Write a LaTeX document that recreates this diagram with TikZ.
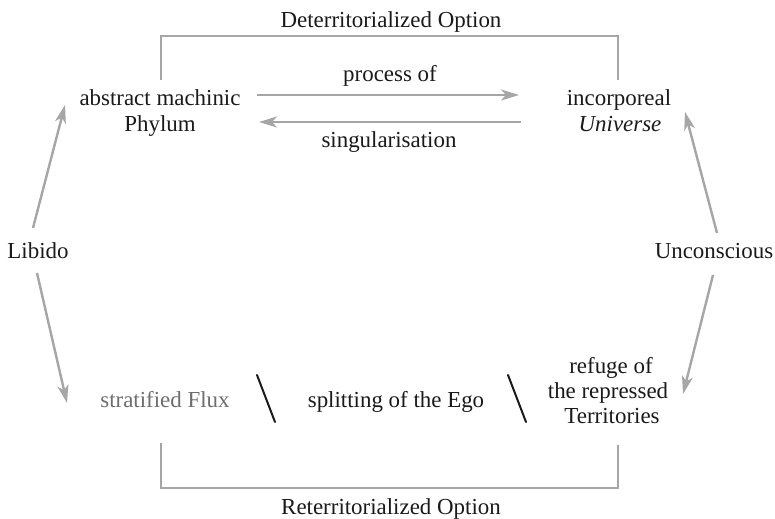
\documentclass[tikz,border=0pt]{standalone}
\usepackage{fontspec}
\setmainfont{Liberation Serif}
\usetikzlibrary{arrows.meta}
\definecolor{lgray}{HTML}{A6A6A6}
\definecolor{ink}{HTML}{1A1A1A}
\definecolor{fluxgray}{HTML}{6E6E6E}
\tikzset{
  lbl/.style={inner sep=0pt, anchor=base, text=ink, font=\fontsize{23}{27}\selectfont},
  gline/.style={draw=lgray, line width=2.4bp},
  garrow/.style={gline, -{Stealth[length=18bp,width=11bp,inset=5bp]}},
  slash/.style={draw=ink, line width=2bp, line cap=round}
}
\begin{document}
\begin{tikzpicture}[x=1bp,y=-1bp]
\useasboundingbox[fill=white] (0,0) rectangle (775,519);
% labels
\node[lbl] (deterr) at (391,28) {Deterritorialized Option};
\node[lbl] (abstr) at (160,106) {abstract machinic};
\node[lbl] (phylum) at (160,132) {Phylum};
\node[lbl] (process) at (390,82) {process of};
\node[lbl] (singul) at (389,148) {singularisation};
\node[lbl] (incorp) at (619,106) {incorporeal};
\node[lbl] (univ) at (620,132) {\itshape Universe};
\node[lbl] (libido) at (38,259) {Libido};
\node[lbl] (uncon) at (714,259) {Unconscious};
\node[lbl, text=fluxgray] (flux) at (165,407) {stratified Flux};
\node[lbl] (split) at (396,407) {splitting of the Ego};
\node[lbl] (refuge) at (611,373) {refuge of};
\node[lbl] (repr) at (608,398) {the repressed};
\node[lbl] (terr) at (612,423) {Territories};
\node[lbl] (reterr) at (391,514) {Reterritorialized Option};
% connector end points
\coordinate (tl) at (161,80);
\coordinate (tr) at (618,80);
\coordinate (bl) at (161,443);
\coordinate (br) at (618,445);
\coordinate (p1s) at (257,95);
\coordinate (p1e) at (519,95);
\coordinate (p2s) at (521,122);
\coordinate (p2e) at (259,122);
\coordinate (lup) at (33,228);
\coordinate (lupe) at (65,105);
\coordinate (ldn) at (37,273);
\coordinate (ldne) at (67,403);
\coordinate (uup) at (717,233);
\coordinate (uupe) at (685,112);
\coordinate (udn) at (713,275);
\coordinate (udne) at (683,394);
% brackets
\draw[gline] (tl) -- (161,36) -- (618,36) -- (tr);
\draw[gline] (bl) -- (161,488) -- (618,488) -- (br);
% horizontal arrows
\draw[garrow] (p1s) -- (p1e);
\draw[garrow] (p2s) -- (p2e);
% diagonal arrows
\draw[garrow] (lup) -- (lupe);
\draw[garrow] (ldn) -- (ldne);
\draw[garrow] (uup) -- (uupe);
\draw[garrow] (udn) -- (udne);
% slashes
\draw[slash] (257,375) -- (275,422);
\draw[slash] (508,375) -- (526,422);
\end{tikzpicture}
\end{document}
